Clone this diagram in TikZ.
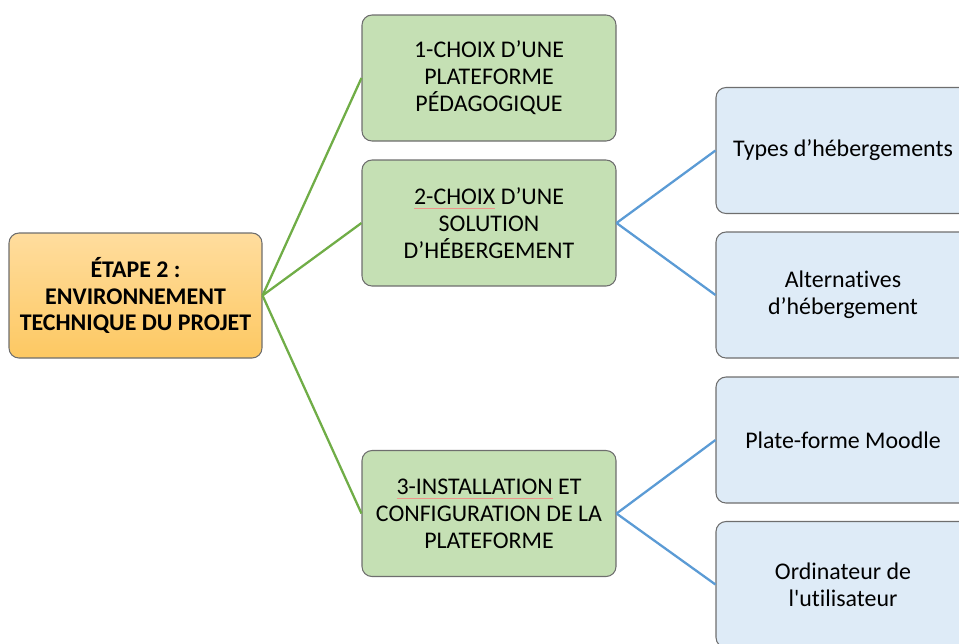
\documentclass[tikz,border=0pt]{standalone}
\usepackage{fontspec}
\setmainfont{Carlito}[Ligatures={TeX,NoCommon}]
\newfontfamily\plainfont{Carlito}[Ligatures=NoCommon]

\definecolor{rootTop}{HTML}{FFDD9E}
\definecolor{rootBot}{HTML}{FDC862}
\definecolor{stepFill}{HTML}{C5E0B4}
\definecolor{leafFill}{HTML}{DEEBF7}
\definecolor{boxLine}{HTML}{6E6E6E}
\definecolor{greenLink}{HTML}{70AD47}
\definecolor{blueLink}{HTML}{5B9BD5}
\definecolor{spellred}{HTML}{F0958C}

% thin proofing underline under a word
\newsavebox\pmbox
\newcommand\proofmark[1]{\sbox\pmbox{#1}\rlap{\textcolor{spellred}{\rule[-2.6pt]{\wd\pmbox}{0.55pt}}}\usebox\pmbox}

\tikzset{
  box/.style={rectangle, rounded corners=0.2cm, draw=boxLine, line width=0.6pt,
    minimum width=5.08cm, minimum height=2.52cm, align=center,
    font=\fontsize{13.6pt}{15.4pt}\selectfont, text=black, inner sep=2pt},
  rootbox/.style={box, minimum width=5.06cm, minimum height=2.5cm,
    top color=rootTop, bottom color=rootBot, font=\fontsize{13.6pt}{15pt}\selectfont\bfseries},
  stepbox/.style={box, fill=stepFill},
  leafbox/.style={box, fill=leafFill},
  greenlink/.style={draw=greenLink, line width=1.3pt},
  bluelink/.style={draw=blueLink, line width=1.3pt},
}

\begin{document}
\begin{tikzpicture}
\useasboundingbox (0,0) rectangle (19.18,-12.86);
\clip (0,0) rectangle (19.18,-12.86);

% root
\node[rootbox] (root) at (2.71,-5.91) {ÉTAPE 2 :\\ENVIRONNEMENT\\TECHNIQUE DU PROJET};

% steps
\node[stepbox] (s1) at (9.78,-1.56) {1-CHOIX D’UNE\\PLATEFORME\\PÉDAGOGIQUE};
\node[stepbox] (s2) at (9.78,-4.46) {\proofmark{2-CHOIX} D’UNE\\SOLUTION\\D’HÉBERGEMENT};
\node[stepbox] (s3) at (9.78,-10.27) {\proofmark{3-INSTALLATION} ET\\CONFIGURATION DE LA\\PLATEFORME};

% leaves
\node[leafbox] (l1) at (16.86,-3.01) {Types d’hébergements};
\node[leafbox] (l2) at (16.86,-5.90) {Alternatives\\d’hébergement};
\node[leafbox] (l3) at (16.86,-8.80) {Plate-forme Moodle};
\node[leafbox] (l4) at (16.86,-11.69) {Ordinateur de\\{\plainfont l'utilisateur}};

% connectors
\draw[greenlink] (root.east) -- (s1.west);
\draw[greenlink] (root.east) -- (s2.west);
\draw[greenlink] (root.east) -- (s3.west);
\draw[bluelink] (s2.east) -- (l1.west);
\draw[bluelink] (s2.east) -- (l2.west);
\draw[bluelink] (s3.east) -- (l3.west);
\draw[bluelink] (s3.east) -- (l4.west);
\end{tikzpicture}
\end{document}
